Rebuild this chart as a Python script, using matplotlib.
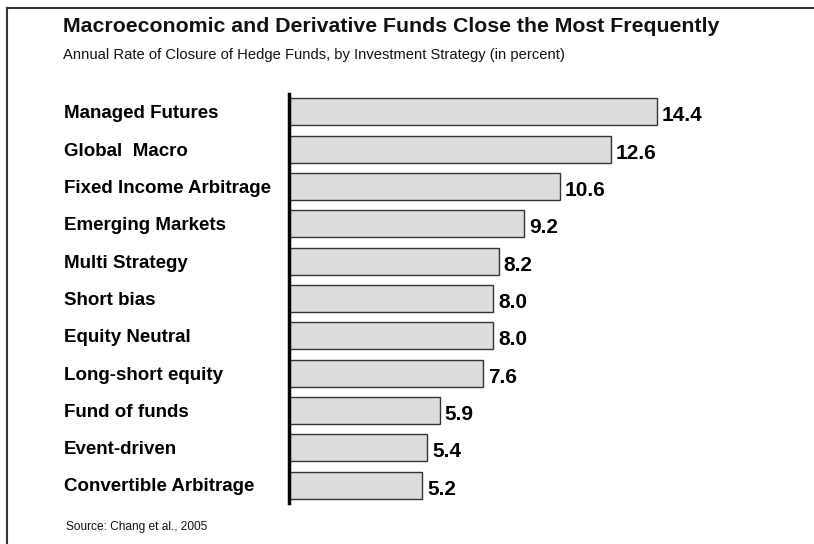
import matplotlib
matplotlib.use("Agg")
import matplotlib.pyplot as plt
import matplotlib.transforms as mtransforms
from matplotlib.lines import Line2D

# Data
strategies = [
    "Managed Futures",
    "Global  Macro",
    "Fixed Income Arbitrage",
    "Emerging Markets",
    "Multi Strategy",
    "Short bias",
    "Equity Neutral",
    "Long-short equity",
    "Fund of funds",
    "Event-driven",
    "Convertible Arbitrage",
]
closure_rates = [14.4, 12.6, 10.6, 9.2, 8.2, 8.0, 8.0, 7.6, 5.9, 5.4, 5.2]

title = "Macroeconomic and Derivative Funds Close the Most Frequently"
subtitle = "Annual Rate of Closure of Hedge Funds, by Investment Strategy (in percent)"
source = "Source: Chang et al., 2005"

plt.rcParams["font.family"] = ["Liberation Sans", "DejaVu Sans"]

W, H = 814, 544
fig = plt.figure(figsize=(W / 100, H / 100), dpi=100)

# Axes placed in pixel terms: left 289, top 94, bottom 503
left, right, top, bottom = 289, 780, 94, 503
ax = fig.add_axes([left / W, 1 - bottom / H, (right - left) / W, (bottom - top) / H])

y = list(range(len(strategies)))
ax.barh(y, closure_rates, height=0.72, color="#dcdcdc",
        edgecolor="#333333", linewidth=1.0)
ax.set_ylim(len(strategies) - 0.52, -0.48)
ax.set_xlim(0, (right - left) / 25.56)

for spine in ["top", "right", "bottom"]:
    ax.spines[spine].set_visible(False)
ax.spines["left"].set_linewidth(2.5)
ax.spines["left"].set_color("black")
ax.set_xticks([])
ax.set_yticks([])

# Category labels, left aligned at a fixed figure x
trans = mtransforms.blended_transform_factory(fig.transFigure, ax.transData)
for yi, name in zip(y, strategies):
    ax.text(64 / W, yi + 0.05, name, transform=trans, ha="left", va="center",
            fontsize=13.5, fontweight="bold", color="black")

# Value labels
offset = mtransforms.offset_copy(ax.transData, fig=fig, x=5, y=-4, units="dots")
for yi, val in zip(y, closure_rates):
    ax.text(val, yi, f"{val:.1f}", transform=offset, ha="left", va="center",
            fontsize=15, fontweight="bold", color="black")

# Titles and source
fig.text(63 / W, 1 - 27 / H, title, ha="left", va="center",
         fontsize=15.3, fontweight="bold", color="#111111")
fig.text(63 / W, 1 - 55 / H, subtitle, ha="left", va="center",
         fontsize=10.6, color="#111111")
fig.text(66 / W, 1 - 527 / H, source, ha="left", va="center",
         fontsize=8.6, color="#111111")

# Frame lines along top and left edge
fig.add_artist(Line2D([7 / W, 1], [1 - 8 / H, 1 - 8 / H], transform=fig.transFigure,
                      color="#333333", linewidth=1.5))
fig.add_artist(Line2D([7 / W, 7 / W], [0, 1 - 8 / H], transform=fig.transFigure,
                      color="#333333", linewidth=1.5))

fig.savefig("out.png", dpi=100)
